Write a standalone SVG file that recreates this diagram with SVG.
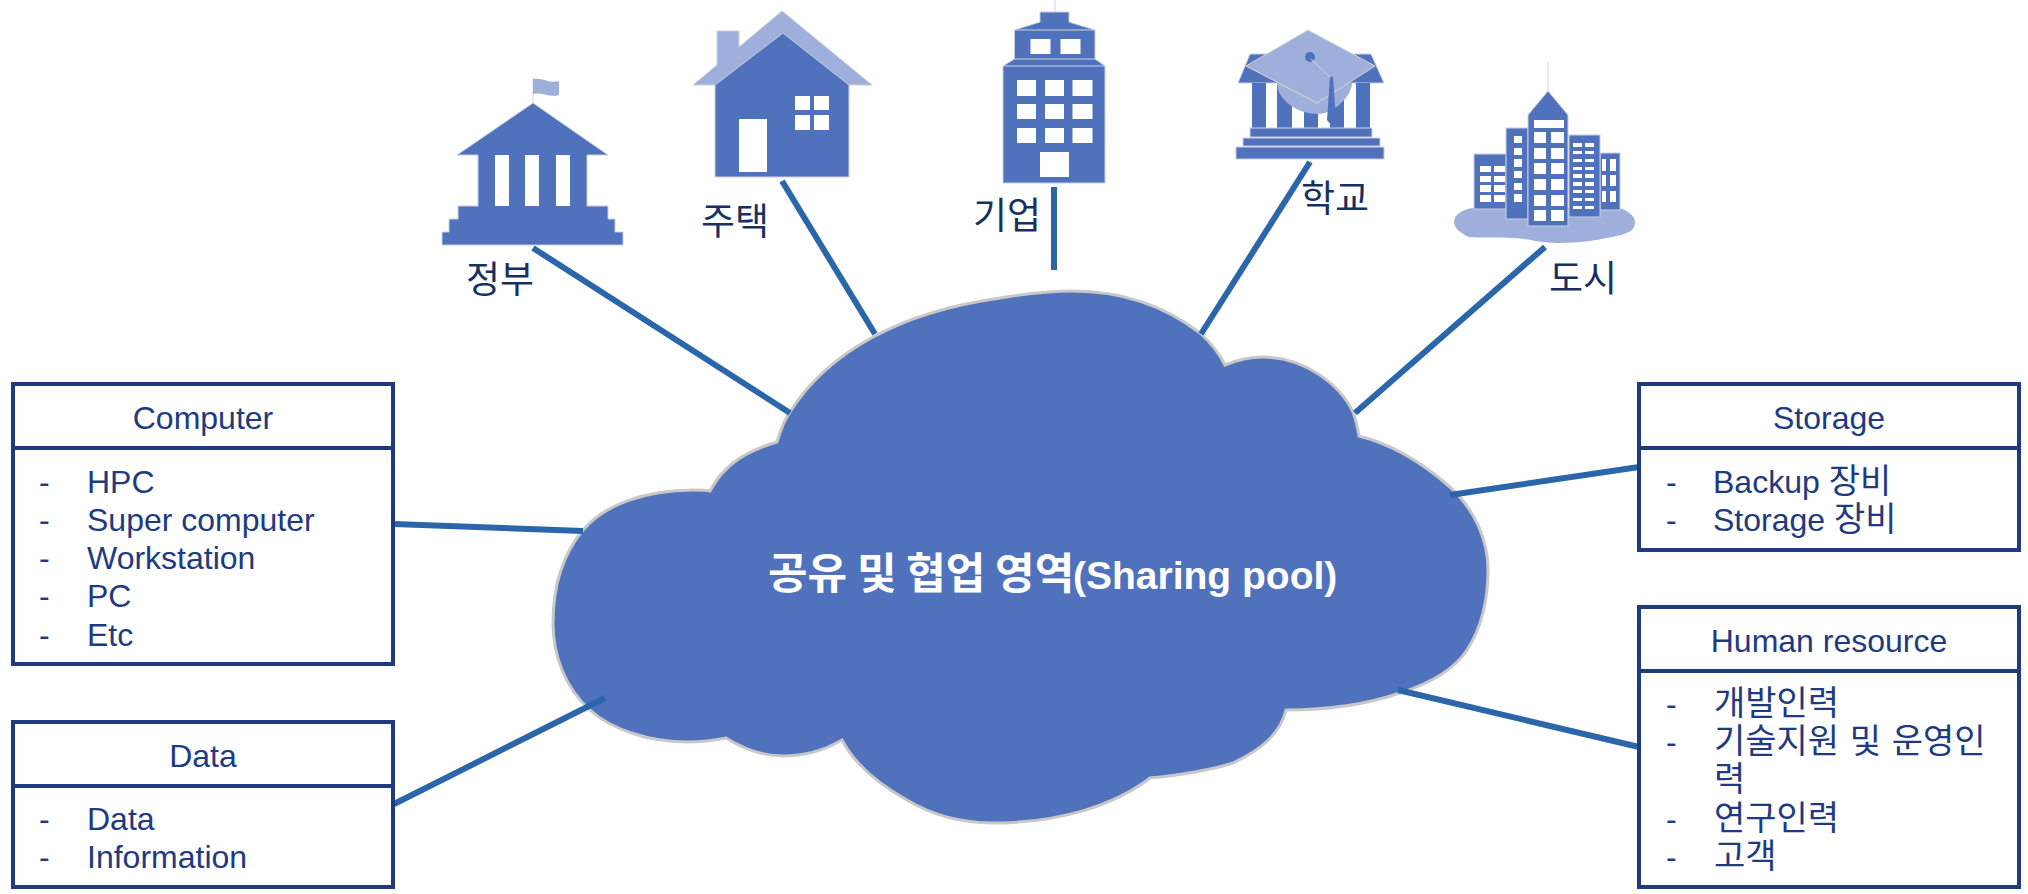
<svg xmlns="http://www.w3.org/2000/svg" width="2028" height="894" viewBox="0 0 2028 894">
<style>
text{font-family:"Liberation Sans","Noto Sans CJK KR",sans-serif}
.b{fill:#5071bc}
.l{fill:#9dafda}
.w{fill:#fff}
.e{stroke:#c9cfdf;stroke-width:1}
.thin{stroke:#cfd4e0;stroke-width:1;fill:none}
.lab{font-size:37px;fill:#17305f;font-family:"Noto Sans CJK KR","Liberation Sans",sans-serif}
.box{fill:#fff;stroke:#203a82;stroke-width:4}
.t{font-size:32px;fill:#203a82}
.k{font-size:34px;font-family:"Noto Sans CJK KR",sans-serif}
.m{text-anchor:middle}
#connectors line{stroke:#2a66a9;stroke-width:6}
</style>
<rect width="2028" height="894" fill="#fff"/>
<g id="cloud">
<path d="M710,491C725,462 750,450 777,442C782,425 787,416 790,412C810,380 840,355 873,337C910,317 950,305 1000,298C1030,293 1050,291 1073,291C1130,291 1170,310 1200,333C1210,342 1220,355 1225,365C1237,360 1250,357 1263,357C1305,357 1340,385 1353,412C1356,420 1358,430 1359,436C1395,445 1425,465 1450,487C1475,510 1488,540 1488,570C1488,605 1480,630 1467,650C1452,673 1425,685 1400,693C1365,705 1325,710 1286,710C1280,735 1260,750 1233,763C1208,771 1180,775 1150,778C1115,805 1060,823 993,823C960,823 932,815 907,800C880,785 855,765 842,740C825,750 805,756 783,756C760,756 742,748 726,738C712,741 700,742 687,742C650,742 612,730 590,710C565,688 553,655 553,623C553,585 564,553 583,530C604,505 645,490 693,490C700,490 705,490 710,491Z" fill="#5071bc" stroke="#c8c8c8" stroke-width="3"/>
<text y="589" fill="#fff" font-weight="700" font-size="39"><tspan x="768" font-size="43" font-family="Noto Sans CJK KR,sans-serif">공유 및 협업 영역</tspan><tspan x="1073">(Sharing pool)</tspan></text>
</g>
<g id="connectors">
<line x1="533" y1="248" x2="790" y2="413"/>
<line x1="782" y1="181" x2="875" y2="334"/>
<line x1="1054" y1="187" x2="1054" y2="270"/>
<line x1="1310" y1="162" x2="1201" y2="334"/>
<line x1="1545" y1="247" x2="1355" y2="413"/>
<line x1="1450" y1="495" x2="1639" y2="467"/>
<line x1="1398" y1="690" x2="1639" y2="747"/>
<line x1="394" y1="524" x2="583" y2="531"/>
<line x1="394" y1="804" x2="605" y2="698"/>
</g>
<g id="government">
<line class="thin" x1="533" y1="78" x2="533" y2="103"/>
<path class="l" d="M533,79C543,77 550,84 559,81V95C550,98 543,92 533,94Z"/>
<path class="b e" d="M533,103L608,155H587V206H608V219H615V232H623V245H442V232H449V219H458V206H478V155H457Z"/>
<rect class="w" x="495" y="155" width="14" height="51"/><rect class="w" x="525" y="155" width="14" height="51"/><rect class="w" x="556" y="155" width="14" height="51"/>
<text class="lab m" x="500" y="293">정부</text>
</g>
<g id="house">
<path class="l e" d="M782,11L872,85H693L717,65V31H739V47Z"/>
<path class="b e" d="M783,33L849,85V177H715V85Z"/>
<rect class="w" x="739" y="119" width="28" height="53"/>
<rect class="w" x="795" y="96" width="15" height="14"/><rect class="w" x="814" y="96" width="15" height="14"/><rect class="w" x="795" y="115" width="15" height="15"/><rect class="w" x="814" y="115" width="15" height="15"/>
<text class="lab m" x="735" y="235">주택</text>
</g>
<g id="company">
<line class="thin" x1="1055" y1="0" x2="1055" y2="12"/>
<path class="b e" d="M1040,12H1069V22L1095,30V59L1105,66V183H1003V66L1014.500,59V30L1040,22Z"/>
<line class="thin" x1="1014.500" y1="30" x2="1095" y2="30"/><line class="thin" x1="1014.500" y1="59" x2="1095" y2="59"/><line class="thin" x1="1003" y1="66" x2="1105" y2="66"/>
<g class="w">
<rect x="1030.500" y="39" width="20" height="15"/><rect x="1060.500" y="39" width="20" height="15"/>
<rect x="1017" y="80" width="19" height="16"/><rect x="1045" y="80" width="19" height="16"/><rect x="1072.500" y="80" width="20" height="16"/>
<rect x="1017" y="104" width="19" height="15"/><rect x="1045" y="104" width="19" height="15"/><rect x="1072.500" y="104" width="20" height="15"/>
<rect x="1017" y="128" width="19" height="15"/><rect x="1045" y="128" width="19" height="15"/><rect x="1072.500" y="128" width="20" height="15"/>
<rect x="1040" y="152" width="29" height="25"/>
</g>
<text class="lab m" x="1007" y="229">기업</text>
</g>
<g id="school">
<path class="b e" d="M1250,54H1371L1384,83H1238Z"/>
<rect class="b" x="1252" y="83" width="14" height="46"/><rect class="b" x="1277" y="83" width="15" height="46"/><rect class="b" x="1304" y="83" width="14" height="46"/><rect class="b" x="1330" y="83" width="14" height="46"/><rect class="b" x="1356" y="83" width="14" height="46"/>
<rect class="b e" x="1250" y="128" width="122" height="9"/><rect class="b e" x="1243" y="138" width="137" height="8"/><rect class="b e" x="1236" y="147" width="148" height="12"/>
<path class="l" d="M1277,83H1352C1352,95 1335,114 1317,114C1298,114 1277,100 1277,83Z"/>
<path class="l" d="M1308,30L1375,66L1317,103L1246,66Z" stroke="#d8d8c8" stroke-width="1"/>
<circle class="b" cx="1310" cy="57" r="5"/>
<line class="thin" x1="1311" y1="59" x2="1331" y2="78"/>
<path class="b" d="M1330,77H1333L1336,120Q1332,128 1327,120Z"/>
<text class="lab m" x="1335" y="212">학교</text>
</g>
<g id="city">
<path class="l" d="M1454,222C1454,214 1464,209 1473,208H1620C1628,211 1635,216 1635,222C1635,230 1630,232 1621,235C1600,240 1580,243 1558,243C1540,243 1530,239 1514,238C1495,237 1480,238 1469,237C1460,233 1454,228 1454,222Z"/>
<line class="thin" x1="1548" y1="62" x2="1548" y2="91"/>
<rect class="b e" x="1474" y="154" width="32" height="55"/>
<rect class="b e" x="1600" y="153" width="20" height="57"/>
<rect class="b e" x="1569" y="135" width="31" height="82"/>
<rect class="b e" x="1506" y="128" width="22" height="91"/>
<path class="b e" d="M1548,91L1568,115V226H1528V115Z"/>
<g class="w">
<rect x="1534" y="120" width="30" height="8"/>
<rect x="1534" y="132" width="12" height="11"/><rect x="1551" y="132" width="13" height="11"/>
<rect x="1534" y="148" width="12" height="11"/><rect x="1551" y="148" width="13" height="11"/>
<rect x="1534" y="163" width="12" height="11"/><rect x="1551" y="163" width="13" height="11"/>
<rect x="1534" y="179" width="12" height="11"/><rect x="1551" y="179" width="13" height="11"/>
<rect x="1534" y="195" width="12" height="11"/><rect x="1551" y="195" width="13" height="11"/>
<rect x="1534" y="210" width="12" height="11"/><rect x="1551" y="210" width="13" height="11"/>
<rect x="1514" y="136" width="8" height="7"/><rect x="1514" y="148" width="8" height="7"/><rect x="1514" y="159" width="8" height="8"/><rect x="1514" y="171" width="8" height="7"/><rect x="1514" y="183" width="8" height="7"/><rect x="1514" y="194" width="8" height="8"/>
<rect x="1480" y="166" width="11" height="6"/><rect x="1494" y="166" width="11" height="6"/>
<rect x="1480" y="176" width="11" height="6"/><rect x="1494" y="176" width="11" height="6"/>
<rect x="1480" y="185" width="11" height="7"/><rect x="1494" y="185" width="11" height="7"/>
<rect x="1480" y="195" width="11" height="7"/><rect x="1494" y="195" width="11" height="7"/>
<rect x="1573" y="143" width="9" height="4"/><rect x="1585" y="143" width="9" height="4"/>
<rect x="1573" y="151" width="9" height="3"/><rect x="1585" y="151" width="9" height="3"/>
<rect x="1573" y="159" width="9" height="3"/><rect x="1585" y="159" width="9" height="3"/>
<rect x="1573" y="167" width="9" height="3"/><rect x="1585" y="167" width="9" height="3"/>
<rect x="1573" y="174" width="9" height="4"/><rect x="1585" y="174" width="9" height="4"/>
<rect x="1573" y="182" width="9" height="4"/><rect x="1585" y="182" width="9" height="4"/>
<rect x="1573" y="190" width="9" height="3"/><rect x="1585" y="190" width="9" height="3"/>
<rect x="1573" y="198" width="9" height="3"/><rect x="1585" y="198" width="9" height="3"/>
<rect x="1573" y="206" width="9" height="3"/><rect x="1585" y="206" width="9" height="3"/>
<rect x="1602" y="159" width="4" height="12"/><rect x="1610" y="159" width="6" height="12"/>
<rect x="1602" y="175" width="4" height="11"/><rect x="1610" y="175" width="6" height="11"/>
<rect x="1602" y="191" width="4" height="11"/><rect x="1610" y="191" width="6" height="11"/>
</g>
<text class="lab m" x="1583" y="292">도시</text>
</g>
<g id="computer">
<rect class="box" x="13" y="384" width="380" height="280"/><line class="box" x1="13" y1="448" x2="393" y2="448"/>
<text class="t m" x="203" y="429">Computer</text>
<text class="t" x="39" y="493">-</text><text class="t" x="87" y="493">HPC</text>
<text class="t" x="39" y="531">-</text><text class="t" x="87" y="531">Super computer</text>
<text class="t" x="39" y="569">-</text><text class="t" x="87" y="569">Workstation</text>
<text class="t" x="39" y="607">-</text><text class="t" x="87" y="607">PC</text>
<text class="t" x="39" y="646">-</text><text class="t" x="87" y="646">Etc</text>
</g>
<g id="data">
<rect class="box" x="13" y="722" width="380" height="165"/><line class="box" x1="13" y1="786" x2="393" y2="786"/>
<text class="t m" x="203" y="767">Data</text>
<text class="t" x="39" y="830">-</text><text class="t" x="87" y="830">Data</text>
<text class="t" x="39" y="868">-</text><text class="t" x="87" y="868">Information</text>
</g>
<g id="storage">
<rect class="box" x="1639" y="384" width="380" height="166"/><line class="box" x1="1639" y1="448" x2="2019" y2="448"/>
<text class="t m" x="1829" y="429">Storage</text>
<text class="t" x="1666" y="493">-</text><text class="t" x="1713" y="493">Backup <tspan class="k">장비</tspan></text>
<text class="t" x="1666" y="531">-</text><text class="t" x="1713" y="531">Storage <tspan class="k">장비</tspan></text>
</g>
<g id="human-resource">
<rect class="box" x="1639" y="607" width="380" height="280"/><line class="box" x1="1639" y1="671" x2="2019" y2="671"/>
<text class="t m" x="1829" y="652">Human resource</text>
<text class="t" x="1666" y="715">-</text><text class="t k" x="1714" y="715">개발인력</text>
<text class="t" x="1666" y="753">-</text><text class="t k" x="1714" y="753" word-spacing="3">기술지원 및 운영인</text>
<text class="t k" x="1714" y="791">력</text>
<text class="t" x="1666" y="830">-</text><text class="t k" x="1714" y="830">연구인력</text>
<text class="t" x="1666" y="868">-</text><text class="t k" x="1714" y="868">고객</text>
</g>
</svg>
